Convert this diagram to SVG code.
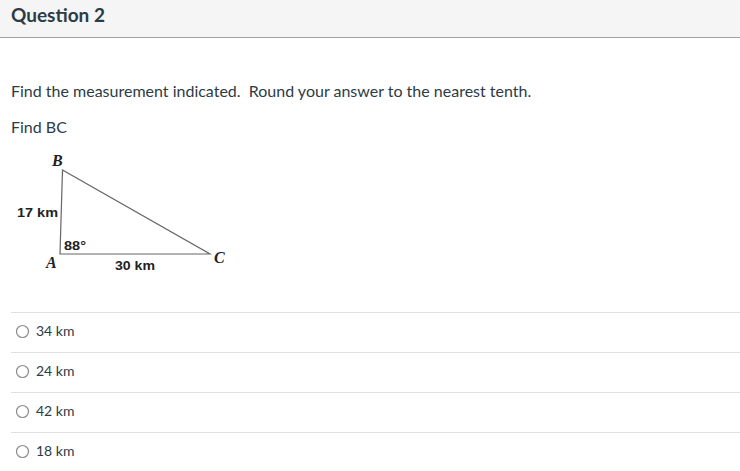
<svg xmlns="http://www.w3.org/2000/svg" width="740" height="471" viewBox="0 0 740 471">
<style>
.ui{font-family:Lato,"Liberation Sans",sans-serif;fill:#2d3b45}
.fig{font-family:"Liberation Sans",Arial,sans-serif;font-weight:bold;font-size:13px;fill:#222}
.vx{font-family:"Liberation Serif","Times New Roman",serif;font-style:italic;font-weight:bold;font-size:16px;fill:#222}
.sep{stroke:#e0e0e0;stroke-width:1}
.radio{fill:#fff;stroke:#8a8a8a;stroke-width:1.2}
.opt{font-family:Lato,"Liberation Sans",sans-serif;font-size:14px;fill:#2d3b45}
</style>
<rect x="0" y="0" width="740" height="471" fill="#fff"/>
<g id="header">
<rect x="0" y="0" width="740" height="37" fill="#f5f5f5"/>
<line x1="0" y1="37.5" x2="740" y2="37.5" stroke="#a0a0a0" stroke-width="1"/>
<text class="ui" x="11" y="22" font-size="19" font-weight="bold">Question 2</text>
</g>
<g id="prompt">
<text class="ui" x="11" y="97" font-size="16" xml:space="preserve" style="white-space:pre">Find the measurement indicated.  Round your answer to the nearest tenth.</text>
<text class="ui" x="11" y="133" font-size="16">Find BC</text>
</g>
<g id="figure">
<polygon points="62.5,170 60,254 210,254" fill="#fff" stroke="#666" stroke-width="1.2"/>
<text class="vx" x="52" y="166">B</text>
<text class="vx" x="46" y="268">A</text>
<text class="vx" x="214" y="263">C</text>
<text class="fig" x="17" y="217" textLength="41" lengthAdjust="spacingAndGlyphs">17 km</text>
<text class="fig" x="64" y="250" textLength="22" lengthAdjust="spacingAndGlyphs">88°</text>
<text class="fig" x="115" y="270" textLength="40" lengthAdjust="spacingAndGlyphs">30 km</text>
</g>
<g id="options">
<line class="sep" x1="11" y1="312.5" x2="740" y2="312.5"/>
<line class="sep" x1="11" y1="352.5" x2="740" y2="352.5"/>
<line class="sep" x1="11" y1="392.5" x2="740" y2="392.5"/>
<line class="sep" x1="11" y1="432.5" x2="740" y2="432.5"/>
<g id="opt1"><circle class="radio" cx="22.5" cy="331.5" r="6"/><text class="opt" x="36" y="336">34 km</text></g>
<g id="opt2"><circle class="radio" cx="22.5" cy="371.5" r="6"/><text class="opt" x="36" y="376">24 km</text></g>
<g id="opt3"><circle class="radio" cx="22.5" cy="411.5" r="6"/><text class="opt" x="36" y="416">42 km</text></g>
<g id="opt4"><circle class="radio" cx="22.5" cy="451.5" r="6"/><text class="opt" x="36" y="456">18 km</text></g>
</g>
</svg>
